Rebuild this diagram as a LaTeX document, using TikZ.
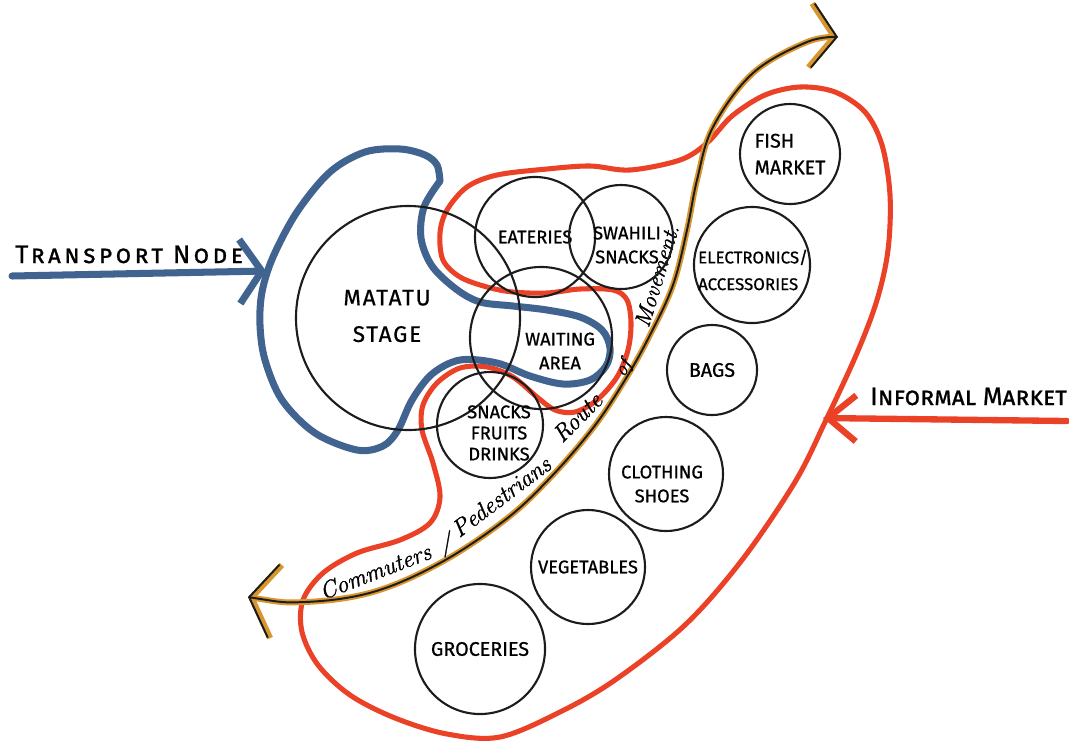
\documentclass[tikz,border=0pt]{standalone}
\usepackage{fontspec}
\newfontfamily\handfont{Fira Sans}[FakeBold=0.8]
\newfontfamily\capsfont{Fira Sans}[Letters=SmallCaps, FakeBold=0.8]
\newfontfamily\walkfont{Latin Modern Roman}[FakeBold=1.2]
\usetikzlibrary{arrows.meta}
\definecolor{ink}{HTML}{1C1C1C}
\definecolor{transport}{HTML}{40638F}
\definecolor{market}{HTML}{EA4127}
\definecolor{route}{HTML}{D8962F}

\begin{document}
\begin{tikzpicture}[x=0.025cm, y=0.025cm,
  stall/.style={circle, draw=ink, line width=1.5pt, inner sep=0pt, align=center,
    font=\handfont\fontsize{13}{17}\selectfont},
  tag/.style={align=center, inner sep=0pt, font=\handfont\fontsize{13}{17}\selectfont},
  title/.style={inner sep=0pt, anchor=base west, font=\capsfont\fontsize{18}{20}\selectfont},
  walk text/.style={inner sep=0pt, anchor=base, font=\walkfont\fontsize{17}{17}\selectfont\itshape},
  bus line/.style={draw=transport, line width=5pt, line cap=round, line join=round},
  market line/.style={draw=market, line width=3.6pt, line cap=round, line join=round},
  walk line/.style={line cap=round, line join=round,
    {Straight Barb[length=0.62cm, width=1.85cm]}-{Straight Barb[length=0.6cm, width=1.6cm]}}]
\useasboundingbox (0,-744) rectangle (1069,0);

% edge of the informal market
\draw[market line] plot[smooth cycle, tension=0.55] coordinates {
  (440,-233) (447,-210) (467,-187) (497,-175) (547,-169) (590,-166) (630,-170)
  (680,-160) (707,-143) (732,-116) (765,-95) (800,-87) (835,-92) (865,-112)
  (882,-145) (890,-195) (888,-250) (877,-300) (857,-353) (826,-420) (795,-482)
  (742,-560) (685,-625) (615,-680) (560,-712) (500,-737) (447,-734) (395,-718)
  (350,-695) (318,-665) (302,-632) (303,-600) (323,-573) (357,-553) (400,-540)
  (430,-523) (440,-497) (433,-463) (422,-430) (423,-405) (437,-383) (460,-368)
  (487,-367) (513,-377) (537,-397) (555,-410) (575,-412) (597,-400) (617,-377)
  (628,-350) (631,-323) (627,-300) (613,-290) (580,-289) (547,-293) (513,-292)
  (487,-287) (460,-277) (443,-260)};

% matatu loop
\draw[bus line] plot[smooth, tension=0.55] coordinates {
  (440,-181) (437,-165) (425,-155) (400,-149) (365,-152) (330,-172) (297,-212)
  (273,-257) (262,-292) (260,-325) (265,-360) (282,-400) (315,-433) (357,-450)
  (383,-446) (398,-430) (412,-400) (432,-374) (460,-360) (497,-363) (530,-376)
  (563,-384) (590,-380) (606,-366) (610,-348) (602,-330) (580,-317) (547,-310)
  (513,-306) (480,-302) (456,-289) (432,-266) (421,-238) (424,-207) (440,-181)};

% route of movement
\foreach \c/\w in {route/4.2pt, ink/1.4pt}
  \draw[walk line, draw=\c, line width=\w] plot[smooth, tension=0.6] coordinates {
    (248,-597) (305,-602) (373,-592) (440,-563) (505,-520) (550,-478) (593,-428)
    (625,-380) (650,-335) (673,-285) (687,-230) (697,-180) (713,-127) (753,-73)
    (807,-42) (838,-37)};
\node[walk text, rotate=21] (commuters) at (378,-579) {Commuters};
\node[walk text, rotate=20] (slash) at (448,-550) {/};
\node[walk text, rotate=37] (pedestrians) at (506,-503) {Pedestrians};
\node[walk text, rotate=45] (route word) at (583,-423) {Route};
\node[walk text, rotate=58, font=\walkfont\fontsize{14}{14}\selectfont\itshape] (of) at (628,-371) {of};
\node[walk text, rotate=73, font=\walkfont\fontsize{16}{16}\selectfont\itshape]
  (movement) at (664,-278) {Movement.};

% stalls
\node[stall, minimum size=5.6cm] (matatu) at (408,-318) {};
\node[tag, font=\handfont\fontsize{16}{26}\selectfont\addfontfeatures{LetterSpace=8}]
  (matatu text) at (387,-316) {MATATU\\STAGE};
\node[stall, minimum size=3cm] (eateries) at (535,-237) {EATERIES};
\node[stall, minimum size=2.6cm] (swahili) at (621,-237) {};
\node[tag] (swahili text) at (627,-245) {SWAHILI\\SNACKS};
\node[stall, minimum size=3.55cm] (waiting) at (541,-338) {};
\node[tag] (waiting text) at (560,-351) {WAITING\\AREA};
\node[stall, minimum size=2.65cm] (snacks) at (490,-425) {};
\node[tag, font=\handfont\fontsize{13}{15}\selectfont] (snacks text) at (499,-433)
  {SNACKS\\FRUITS\\DRINKS};
\node[stall, minimum size=2.5cm] (fish) at (790,-154) {};
\node[tag, align=left, font=\handfont\fontsize{14}{19}\selectfont] (fish text) at (790,-154)
  {FISH\\MARKET};
\node[stall, minimum size=2.9cm] (electronics) at (752,-265) {};
\node[tag, align=left, font=\handfont\fontsize{12}{19}\selectfont] (electronics text)
  at (753,-270) {ELECTRONICS/\\ACCESSORIES};
\node[stall, minimum size=2.25cm, font=\handfont\fontsize{14}{17}\selectfont]
  (bags) at (712,-370) {BAGS};
\node[stall, minimum size=2.85cm] (clothing) at (666,-474) {};
\node[tag] (clothing text) at (662,-484) {CLOTHING\\SHOES};
\node[stall, minimum size=2.85cm] (vegetables) at (588,-567) {VEGETABLES};
\node[stall, minimum size=3.25cm, font=\handfont\fontsize{14}{17}\selectfont]
  (groceries) at (480,-649) {GROCERIES};

% ways in
\coordinate (bus in) at (12,-276);
\coordinate (bus tip) at (266,-271);
\draw[bus line, -{Straight Barb[length=0.55cm, width=1.6cm]}] (bus in) -- (bus tip);
\node[title, font=\capsfont\fontsize{18}{20}\selectfont\addfontfeatures{LetterSpace=13}]
  (transport) at (15,-263) {Transport Node};

\coordinate (market in) at (1067,-421);
\coordinate (market tip) at (823,-418);
\draw[market line, line width=4.5pt, -{Straight Barb[length=0.7cm, width=1.15cm]}]
  (market in) -- (market tip);
\node[title] (informal) at (870,-405) {Informal Market};
\end{tikzpicture}
\end{document}
